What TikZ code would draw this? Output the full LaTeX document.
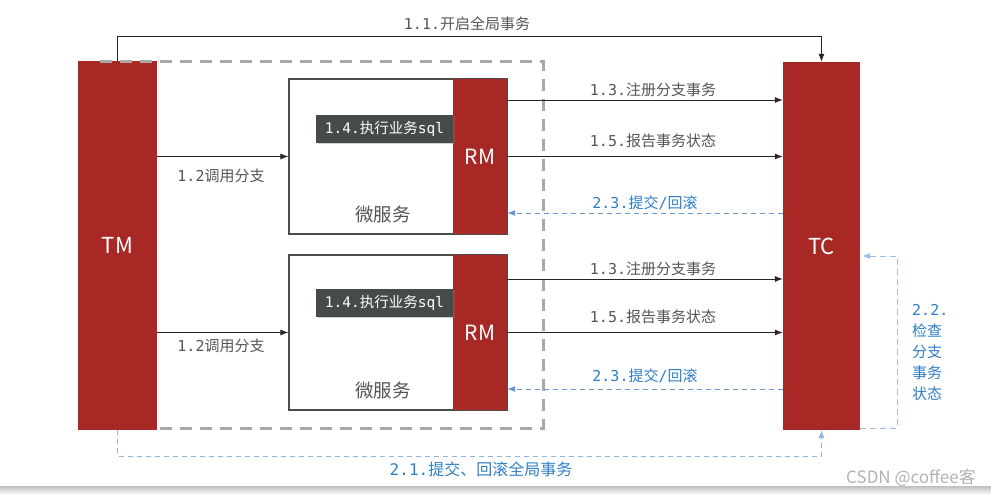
\documentclass[tikz,border=0pt]{standalone}
\usepackage{fontspec}
\setmainfont{Noto Sans CJK SC}
\newfontfamily\cjk{Noto Sans CJK SC}
\newfontfamily\monof{DejaVu Sans Mono}
\usetikzlibrary{arrows.meta,shadows,calc}
\definecolor{myred}{HTML}{A82826}
\definecolor{darkbox}{HTML}{454B4B}
\definecolor{bluetxt}{HTML}{2F7FC8}
\definecolor{blueline}{HTML}{6A98D0}
\definecolor{lightblue}{HTML}{9DBDE3}
\definecolor{txtgray}{HTML}{555555}
\definecolor{dashgray}{HTML}{A8A8A8}
\tikzset{
  redbar/.style={fill=myred,draw=none,text=white,inner sep=0pt},
  msbox/.style={draw=black!70,line width=1.2pt,fill=white,inner sep=0pt},
  sqlbox/.style={fill=darkbox,text=white,inner sep=0pt,drop shadow={shadow xshift=1.5pt,shadow yshift=-1.5pt,opacity=0.35}},
  arr/.style={-{Latex[length=8pt,width=6pt]},line width=0.8pt,black!85},
  barr/.style={-{Latex[length=8pt,width=6pt]},line width=0.8pt,blueline,dash pattern=on 5pt off 4pt},
  lbarr/.style={-{Latex[length=8pt,width=6pt]},line width=0.9pt,lightblue,dash pattern=on 6pt off 4pt},
  lbl/.style={text=txtgray,font=\fontsize{15}{17}\selectfont,inner sep=0pt},
  blbl/.style={text=bluetxt,font=\fontsize{15}{17}\selectfont,inner sep=0pt},
}
\begin{document}
\begin{tikzpicture}[x=1pt,y=-1pt]
\useasboundingbox (0,0) rectangle (991,495);
\fill[white] (0,0) rectangle (991,486);
\shade[top color=black!25,bottom color=white] (0,486) rectangle (991,495);
% TM and TC
\node[redbar,minimum width=79pt,minimum height=369pt,font=\fontsize{22}{24}\selectfont] (TM) at (117.5,245.5) {TM};
\node[redbar,minimum width=77pt,minimum height=368pt,font=\fontsize{22}{24}\selectfont] (TC) at (821.5,246) {TC};
% dashed gray container
\draw[dashgray,line width=3pt,dash pattern=on 12pt off 8pt] (100,62) -- (543,62) -- (543,428) -- (157,428);
% microservice boxes
\node[msbox,minimum width=218pt,minimum height=155pt] (MS1) at (398,156.5) {};
\node[redbar,minimum width=54pt,minimum height=155pt,font=\fontsize{21}{24}\selectfont] (RM1) at (480,156.5) {RM};
\node[sqlbox,minimum width=137pt,minimum height=28pt,font=\fontsize{14.5}{16}\selectfont] (SQL1) at (384.5,128.5) {{\monof 1.4.}执行业务{\monof sql}};
\node[text=txtgray,font=\fontsize{18.5}{20}\selectfont,inner sep=0pt] (W1) at (383,214) {微服务};
\node[msbox,minimum width=218pt,minimum height=155pt] (MS2) at (398,332.5) {};
\node[redbar,minimum width=54pt,minimum height=155pt,font=\fontsize{21}{24}\selectfont] (RM2) at (480,332.5) {RM};
\node[sqlbox,minimum width=137pt,minimum height=28pt,font=\fontsize{14.5}{16}\selectfont] (SQL2) at (384.5,302.5) {{\monof 1.4.}执行业务{\monof sql}};
\node[text=txtgray,font=\fontsize{18.5}{20}\selectfont,inner sep=0pt] (W2) at (383,390) {微服务};
% 1.1
\draw[arr] (TM.north) -- ++(0,-24) -| (TC.north);
\node[lbl] (L11) at (467,24) {{\monof 1.1.}开启全局事务};
% 1.2
\draw[arr] (TM.east |- MS1.west) -- (MS1.west);
\node[lbl] (L12a) at (221,176) {{\monof 1.2}调用分支};
\draw[arr] (TM.east |- MS2.west) -- (MS2.west);
\node[lbl] (L12b) at (221,346) {{\monof 1.2}调用分支};
% upper RM <-> TC
\draw[arr] (RM1.east |- 0,100) -- (TC.west |- 0,100);
\node[lbl] (L13a) at (653,90) {{\monof 1.3.}注册分支事务};
\draw[arr] (RM1.east) -- (TC.west |- RM1.east);
\node[lbl] (L15a) at (653,141) {{\monof 1.5.}报告事务状态};
\draw[barr] (TC.west |- 0,213) -- (RM1.east |- 0,213);
\node[blbl] (L23a) at (645,203) {{\monof 2.3.}提交{\monof /}回滚};
% lower RM <-> TC
\draw[arr] (RM2.east |- 0,279) -- (TC.west |- 0,279);
\node[lbl] (L13b) at (653,269) {{\monof 1.3.}注册分支事务};
\draw[arr] (RM2.east) -- (TC.west |- RM2.east);
\node[lbl] (L15b) at (653,317) {{\monof 1.5.}报告事务状态};
\draw[barr] (TC.west |- 0,389) -- (RM2.east |- 0,389);
\node[blbl] (L23b) at (645,376) {{\monof 2.3.}提交{\monof /}回滚};
% 2.1
\draw[barr,lightblue!80!blueline] (TM.south) -- ++(0,26) -| (TC.south);
\node[blbl,font=\fontsize{16}{18}\selectfont] (L21) at (481,469) {{\monof 2.1.}提交、回滚全局事务};
% 2.2
\coordinate (R1) at ($(TC.south east)+(37,-2)$);
\draw[lbarr] ($(TC.south east)+(0,-2)$) -- (R1) |- ($(TC.east |- 0,256)+(2,0)$);
\node[blbl,align=left,anchor=north west,font=\fontsize{15}{21}\selectfont] (L22) at (912,304) {{\monof 2.2.}\\检查\\分支\\事务\\状态};
% watermark
\node[text=black!30,font=\fontsize{17}{19}\selectfont,inner sep=0pt] (WM) at (911,478) {CSDN @coffee客};
\end{tikzpicture}
\end{document}
